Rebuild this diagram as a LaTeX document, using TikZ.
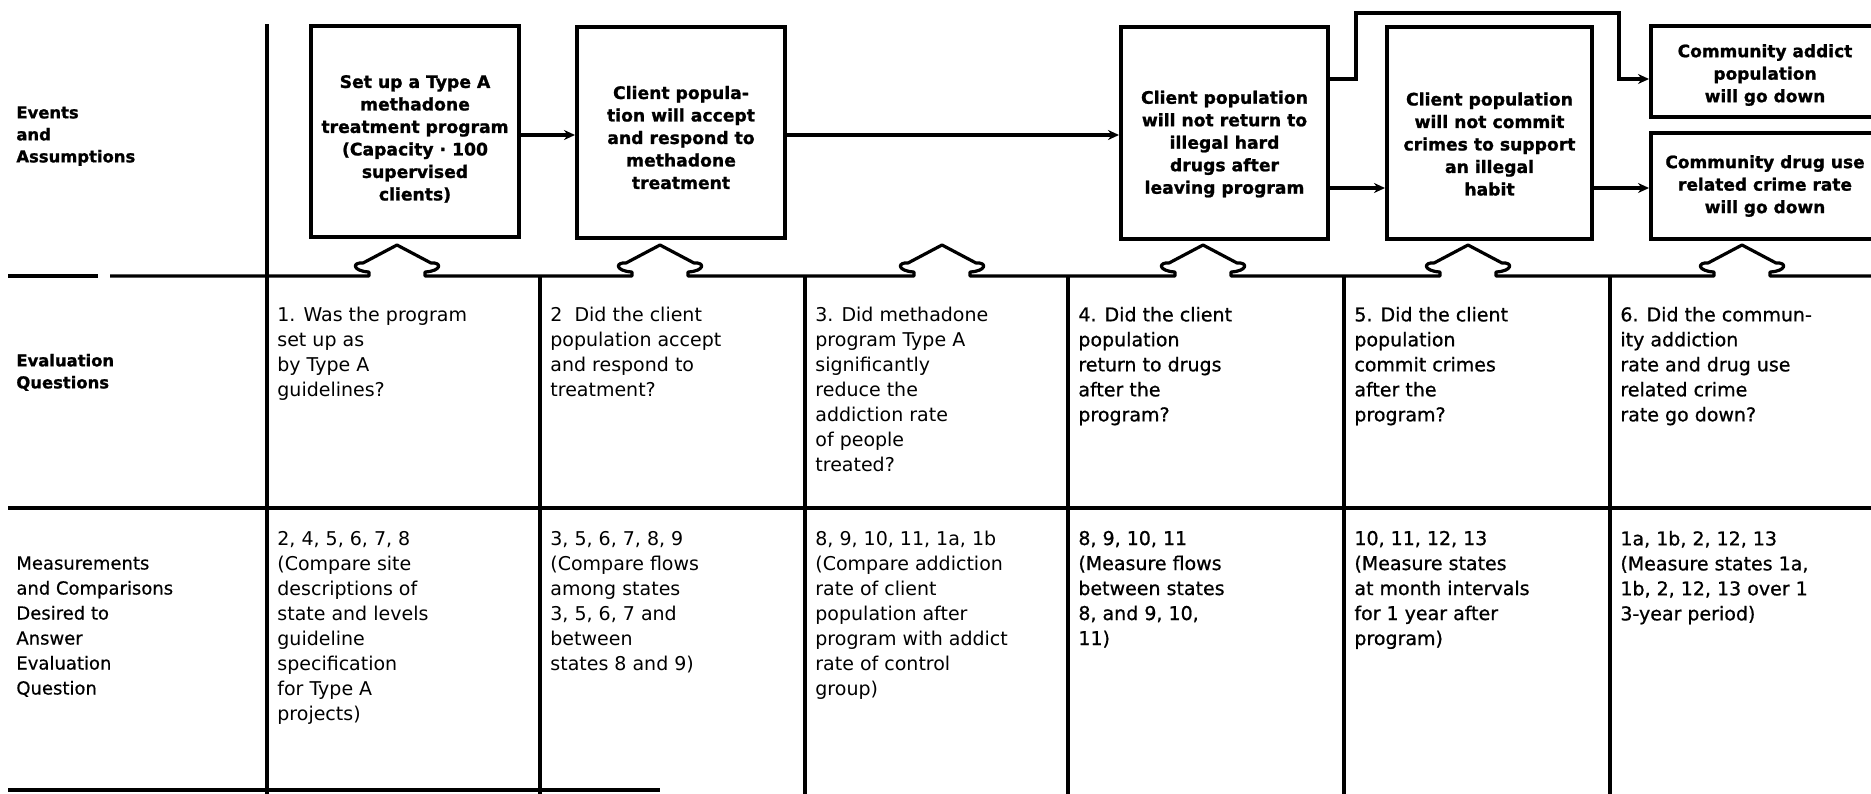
\documentclass[tikz,border=0pt]{standalone}
\usepackage{fontspec}
\setmainfont{DejaVu Sans}
\newfontfamily\heavyfam[FakeBold=1.2]{DejaVu Sans Bold}
\newfontfamily\medfam[FakeBold=0.8]{DejaVu Sans}
\newfontfamily\lightbold[FakeBold=0.5]{DejaVu Sans}
\usetikzlibrary{arrows.meta}
\newcommand\boxfnt{\heavyfam\fontsize{8.6}{11.25}\selectfont}
\newcommand\boxfntsm{\heavyfam\fontsize{8.5}{11.25}\selectfont}
\newcommand\labfnt{\heavyfam\fontsize{8.2}{11}\selectfont}
\newcommand\labfntb{\heavyfam\fontsize{8.2}{11}\selectfont}
\newcommand\labfntc{\lightbold\fontsize{9}{12.5}\selectfont}
\newcommand\qfnt{\fontsize{9.5}{12.5}\selectfont}
\newcommand\qfntb{\medfam\fontsize{9.5}{12.5}\selectfont}
\newcommand\mfnt{\fontsize{9.5}{12.5}\selectfont}
\newcommand\mfntb{\medfam\fontsize{9.5}{12.5}\selectfont}
\newcommand\lift[1]{\rule{0pt}{#1}}
\tikzset{
  ev/.style={draw, line width=2pt, inner sep=2pt, align=center, font=\boxfnt},
  txt/.style={inner sep=0pt, anchor=north west, align=left},
  grid/.style={line width=1.6pt},
  conn/.style={line width=1.6pt, -{Stealth[length=5.5pt,width=5pt]}},
  bump/.style={insert path={-- ({#1-28},276) -- ({#1-28},272)
     .. controls ({#1-45},271) and ({#1-45},262) .. ({#1-34},263)
     -- (#1,245) -- ({#1+34},263)
     .. controls ({#1+45},262) and ({#1+45},271) .. ({#1+28},272)
     -- ({#1+28},276)}}
}
\begin{document}
\begin{tikzpicture}[x=0.5pt,y=-0.5pt]
\useasboundingbox (0,0) rectangle (1871,793);
\clip (0,0) rectangle (1871,793);

% grid lines
\draw[grid] (8,276) -- (98,276);
\draw[grid, line join=round] (110,276) [bump=397] [bump=660] [bump=942] [bump=1203] [bump=1468] [bump=1742] -- (1880,276);
\draw[grid] (8,508) -- (1880,508);
\draw[grid] (8,790) -- (660,790);
\draw[grid] (267,24) -- (267,800);
\foreach \xx in {540,805,1068,1344,1610} \draw[grid] (\xx,276) -- (\xx,800);

% event boxes
\node[ev, minimum width=104pt, minimum height=105.5pt] (b1) at (415,131.5)
  {\lift{13.8pt}Set up a Type A\\methadone\\treatment program\\(Capacity · 100\\supervised\\clients)};
\node[ev, minimum width=104pt, minimum height=105.5pt] (b2) at (681,132.5)
  {\lift{11.6pt}Client popula-\\tion will accept\\and respond to\\methadone\\treatment};
\node[ev, minimum width=103.5pt, minimum height=106pt] (b3) at (1224.5,133)
  {\lift{17.6pt}Client population\\will not return to\\illegal hard\\drugs after\\leaving program};
\node[ev, minimum width=102.5pt, minimum height=106pt] (b4) at (1489.5,133)
  {\lift{17.6pt}Client population\\will not commit\\crimes to support\\an illegal\\habit};
\node[ev, font=\boxfntsm, minimum width=114pt, minimum height=45.5pt] (b5) at (1765,71.5)
  {\lift{10pt}Community addict\\population\\will go down};
\node[ev, font=\boxfntsm, minimum width=114pt, minimum height=53pt] (b6) at (1765,186)
  {Community drug use\\related crime rate\\will go down};

% connectors
\draw[conn] (b1.east |- 0,135) -- (b2.west |- 0,135);
\draw[conn] (b2.east |- 0,135) -- (b3.west |- 0,135);
\draw[conn] (b3.east |- 0,188) -- (b4.west |- 0,188);
\draw[conn] (b4.east |- 0,188) -- (b6.west |- 0,188);
\draw[conn] (b3.east |- 0,79) -| (1356,13) -| (1619,79) -- (b5.west |- 0,79);

% row labels
\node[txt, font=\labfnt] (l1) at (16,106) {Events\\and\\Assumptions};
\node[txt, font=\labfntb] (l2) at (16,353.5) {Evaluation\\Questions};
\node[txt, font=\labfntc] (l3) at (16,556) {Measurements\\and Comparisons\\Desired to\\Answer\\Evaluation\\Question};

% evaluation questions
\node[txt, font=\qfnt] (q1) at (277,306.5) {1. Was the program\\set up as\\by Type A\\guidelines?};
\node[txt, font=\qfnt] (q2) at (550,306.5) {2\ \ Did the client\\population accept\\and respond to\\treatment?};
\node[txt, font=\qfnt] (q3) at (815,306.5) {3. Did methadone\\program Type A\\significantly\\reduce the\\addiction rate\\of people\\treated?};
\node[txt, font=\qfntb] (q4) at (1078,306.5) {4. Did the client\\population\\return to drugs\\after the\\program?};
\node[txt, font=\qfntb] (q5) at (1354,306.5) {5. Did the client\\population\\commit crimes\\after the\\program?};
\node[txt, font=\qfntb] (q6) at (1620,306.5) {6. Did the commun-\\ity addiction\\rate and drug use\\related crime\\rate go down?};

% measurements
\node[txt, font=\mfnt] (m1) at (277,530.5) {2, 4, 5, 6, 7, 8\\(Compare site\\descriptions of\\state and levels\\guideline\\specification\\for Type A\\projects)};
\node[txt, font=\mfnt] (m2) at (550,530.5) {3, 5, 6, 7, 8, 9\\(Compare flows\\among states\\3, 5, 6, 7 and\\between\\states 8 and 9)};
\node[txt, font=\mfnt] (m3) at (815,530.5) {8, 9, 10, 11, 1a, 1b\\(Compare addiction\\rate of client\\population after\\program with addict\\rate of control\\group)};
\node[txt, font=\mfntb] (m4) at (1078,530.5) {8, 9, 10, 11\\(Measure flows\\between states\\8, and 9, 10,\\11)};
\node[txt, font=\mfntb] (m5) at (1354,530.5) {10, 11, 12, 13\\(Measure states\\at month intervals\\for 1 year after\\program)};
\node[txt, font=\mfntb] (m6) at (1620,530.5) {1a, 1b, 2, 12, 13\\(Measure states 1a,\\1b, 2, 12, 13 over 1\\3-year period)};
\end{tikzpicture}
\end{document}
